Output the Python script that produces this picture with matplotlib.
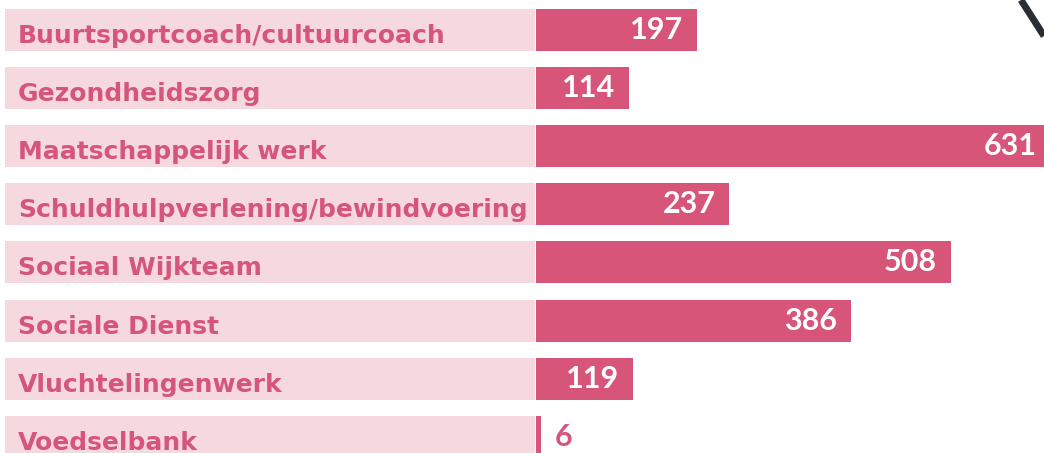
import matplotlib
matplotlib.use("Agg")
import matplotlib.pyplot as plt
from matplotlib.lines import Line2D

categories = [
    "Buurtsportcoach/cultuurcoach",
    "Gezondheidszorg",
    "Maatschappelijk werk",
    "Schuldhulpverlening/bewindvoering",
    "Sociaal Wijkteam",
    "Sociale Dienst",
    "Vluchtelingenwerk",
    "Voedselbank",
]
values = [197, 114, 631, 237, 508, 386, 119, 6]

BAR = "#D8557A"
BOX = "#F6D9DE"
TXT = "#D6557B"

W, H = 1044, 453
fig = plt.figure(figsize=(W / 100, H / 100), dpi=100)
fig.patch.set_facecolor("white")

pitch = 58.1
top_center = 30.0
ylim = ((H - top_center) / pitch, -top_center / pitch)
bh = 42 / pitch

# label boxes axes
axl = fig.add_axes([5 / W, 0, 530 / W, 1])
axl.set_xlim(0, 1)
axl.set_ylim(*ylim)
axl.axis("off")
n = len(categories)
axl.barh(range(n), [1] * n, left=0, height=bh, color=BOX, linewidth=0)
for i, c in enumerate(categories):
    axl.text(13 / 530, i + 13 / pitch, c, ha="left", va="baseline",
             fontsize=18, color=TXT, family="DejaVu Sans", fontweight="bold")

# bars axes
axb = fig.add_axes([536 / W, 0, (W - 536) / W, 1])
scale = 0.816  # px per unit
axb.set_xlim(0, (W - 536) / scale)
axb.set_ylim(*ylim)
axb.axis("off")
axb.barh(range(n), values, height=bh, color=BAR, linewidth=0)
for i, v in enumerate(values):
    if v > 50:
        axb.annotate(str(v), xy=(v, i + 9 / pitch), xytext=(-14, 0),
                     textcoords="offset pixels", ha="right", va="baseline",
                     fontsize=22, color="white", family="Lato", fontweight="bold",
                     annotation_clip=False)
    else:
        axb.annotate(str(v), xy=(v, i + 9 / pitch), xytext=(14, 0),
                     textcoords="offset pixels", ha="left", va="baseline",
                     fontsize=22, color=TXT, family="Lato", fontweight="bold",
                     annotation_clip=False)

# decorative dark stroke top-right
fig.add_artist(Line2D([1021 / W, 1044 / W], [1, 1 - 36 / H], color="#2a2d33",
                      linewidth=5, transform=fig.transFigure, solid_capstyle="butt"))

fig.savefig("out.png", dpi=100)
